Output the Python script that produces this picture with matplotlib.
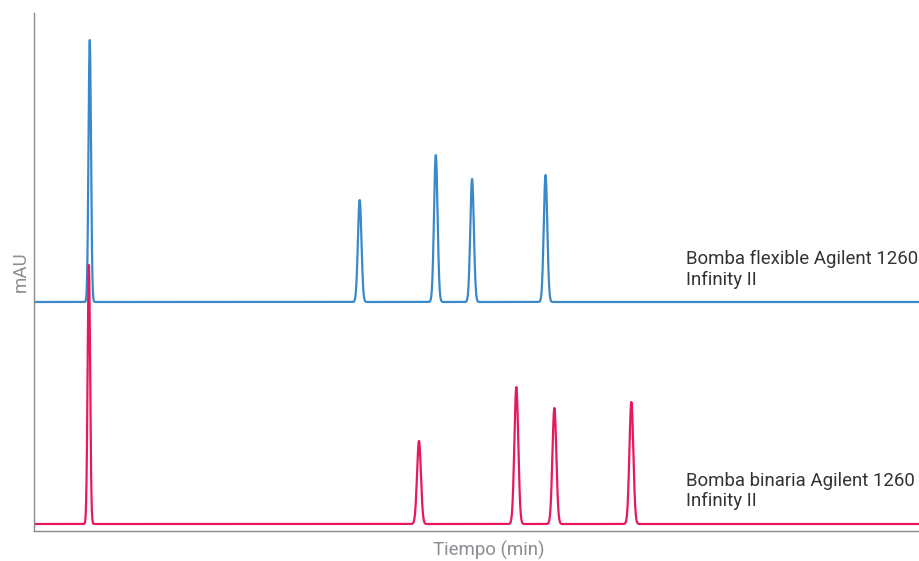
import numpy as np
import matplotlib.pyplot as plt

plt.rcParams["font.family"] = ["Roboto", "DejaVu Sans"]

# peak table: retention time (min), height (mAU), width sigma (min)
flex_rt = [0.63, 3.68, 4.54, 4.95, 5.78]
flex_height = [262, 102, 147, 123, 127]
flex_sigma = [0.014, 0.02, 0.02, 0.02, 0.02]
flex_base = 229

bin_rt = [0.62, 4.35, 5.45, 5.88, 6.75]
bin_height = [259, 83, 137, 116, 122]
bin_sigma = [0.014, 0.022, 0.022, 0.022, 0.022]
bin_base = 7

t_end = 10.0
labels = ["Bomba flexible Agilent 1260\nInfinity II",
          "Bomba binaria Agilent 1260\nInfinity II"]

blue = "#3b88c9"
red = "#e8185e"


def trace(t, base, rts, heights, sigmas):
    y = np.full_like(t, base, dtype=float)
    for rt, h, s in zip(rts, heights, sigmas):
        y += h * np.exp(-0.5 * ((t - rt) / s) ** 2)
    return y


t = np.linspace(0, t_end, 6000)

fig = plt.figure(figsize=(9.19, 5.61), dpi=100)
ax = fig.add_axes([34 / 919, 30 / 561, 885 / 919, 518 / 561])

ax.plot(t, trace(t, flex_base, flex_rt, flex_height, flex_sigma), color=blue, lw=1.6)
ax.plot(t, trace(t, bin_base, bin_rt, bin_height, bin_sigma), color=red, lw=1.6)

ax.text(7.37, 262, labels[0], fontsize=13.4, color="#333333", va="center", linespacing=1.2)
ax.text(7.37, 40, labels[1], fontsize=13.4, color="#333333", va="center", linespacing=1.2)

ax.set_xlim(0, t_end)
ax.set_ylim(0, 518)
ax.set_xticks([])
ax.set_yticks([])
for side in ["top", "right"]:
    ax.spines[side].set_visible(False)
for side in ["left", "bottom"]:
    ax.spines[side].set_color("#8a8a8a")
    ax.spines[side].set_linewidth(1.0)

ax.set_xlabel("Tiempo (min)", fontsize=13.4, color="#8a8d91")
ax.xaxis.set_label_coords(0.514, -0.018, transform=ax.transAxes)
ax.xaxis.label.set_va("top")
ax.set_ylabel("mAU", fontsize=13.4, color="#8a8d91", labelpad=3)

fig.savefig("out.png", dpi=100)
